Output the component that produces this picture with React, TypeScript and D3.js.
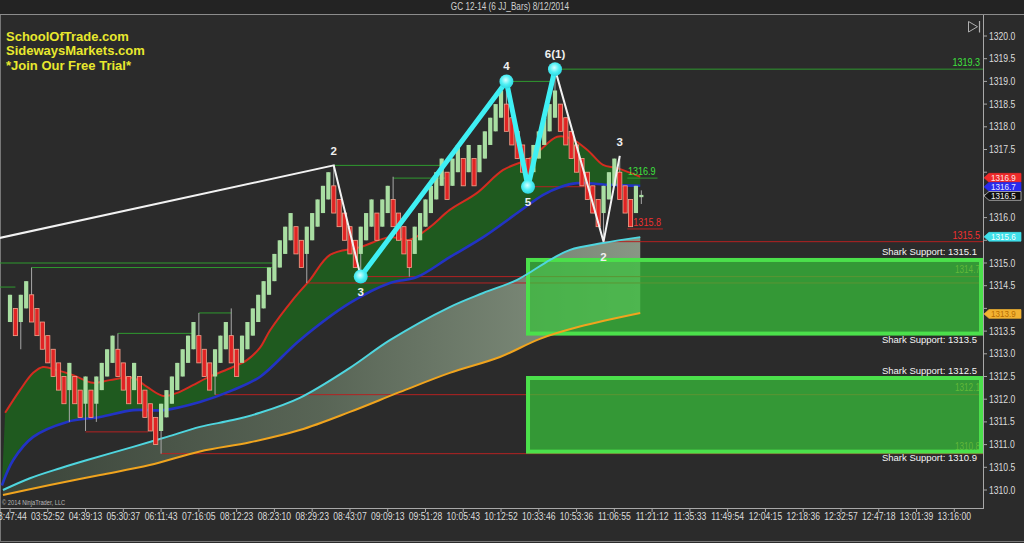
import React from 'react';
import * as d3 from 'd3';

// ---- chart data -------------------------------------------------------
const timeLabels = [
  '03:47:44', '03:52:52', '04:39:13', '05:30:37', '06:11:43', '07:16:05', '08:12:23',
  '08:23:10', '08:29:23', '08:43:07', '09:09:13', '09:51:28', '10:05:43', '10:12:52',
  '10:33:46', '10:53:36', '11:06:55', '11:21:12', '11:35:33', '11:49:54', '12:04:15',
  '12:18:36', '12:32:57', '12:47:18', '13:01:39', '13:16:00',
];
const barsPerLabel = 7;

const priceTicks = [1310, 1310.5, 1311, 1311.5, 1312, 1312.5, 1313, 1313.5, 1314, 1314.5,
  1315, 1315.5, 1316, 1316.5, 1317, 1317.5, 1318, 1318.5, 1319, 1319.5, 1320];

const barOpen = [
  1313.7, 1314.0, 1313.7, 1314.0, 1314.3, 1314.0, 1313.7, 1313.4, 1313.1, 1312.8,
  1312.5, 1312.2, 1312.5, 1312.2, 1311.9, 1312.2, 1311.9, 1312.2, 1312.5, 1312.8,
  1313.1, 1312.8, 1312.5, 1312.2, 1312.5, 1312.2, 1311.9, 1311.6, 1311.3, 1311.6,
  1311.9, 1312.2, 1312.5, 1312.8, 1313.1, 1313.4, 1313.1, 1312.8, 1312.5, 1312.8,
  1313.1, 1313.4, 1313.1, 1312.8, 1313.1, 1313.4, 1313.7, 1314.0, 1314.3, 1314.6,
  1314.9, 1315.2, 1315.5, 1315.8, 1315.5, 1315.2, 1315.5, 1315.8, 1316.1, 1316.4,
  1316.7, 1316.4, 1316.1, 1315.8, 1315.5, 1315.2, 1315.5, 1315.8, 1316.1, 1315.8,
  1316.1, 1316.4, 1316.1, 1315.8, 1315.5, 1315.2, 1315.5, 1315.8, 1316.1, 1316.4,
  1316.7, 1317.0, 1316.7, 1317.0, 1317.3, 1317.0, 1317.3, 1317.0, 1317.3, 1317.6,
  1317.9, 1318.2, 1318.5, 1318.2, 1317.9, 1317.6, 1317.3, 1317.0, 1317.3, 1317.6,
  1317.9, 1318.2, 1318.5, 1318.2, 1317.9, 1317.6, 1317.3, 1317.0, 1316.7, 1316.4,
  1316.1, 1316.4, 1316.7, 1317.0, 1316.7, 1316.4, 1316.1, 1316.45,
];
const barClose = [
  1314.3, 1313.4, 1314.3, 1314.6, 1313.7, 1313.4, 1313.1, 1312.8, 1312.5, 1312.2,
  1311.9, 1312.8, 1311.9, 1311.6, 1312.5, 1311.6, 1312.5, 1312.8, 1313.1, 1313.4,
  1312.5, 1312.2, 1311.9, 1312.8, 1311.9, 1311.6, 1311.3, 1311.0, 1311.9, 1312.2,
  1312.5, 1312.8, 1313.1, 1313.4, 1313.7, 1312.8, 1312.5, 1312.2, 1313.1, 1313.4,
  1313.7, 1312.8, 1312.5, 1313.4, 1313.7, 1314.0, 1314.3, 1314.6, 1314.9, 1315.2,
  1315.5, 1315.8, 1316.1, 1315.2, 1314.9, 1315.8, 1316.1, 1316.4, 1316.7, 1317.0,
  1316.1, 1315.8, 1315.5, 1315.2, 1314.9, 1315.8, 1316.1, 1316.4, 1315.5, 1316.4,
  1316.7, 1315.8, 1315.5, 1315.2, 1314.9, 1315.8, 1316.1, 1316.4, 1316.7, 1317.0,
  1317.3, 1316.4, 1317.3, 1317.6, 1316.7, 1317.6, 1316.7, 1317.6, 1317.9, 1318.2,
  1318.5, 1318.8, 1317.9, 1317.6, 1317.3, 1317.0, 1316.7, 1317.6, 1317.9, 1318.2,
  1318.5, 1318.8, 1317.9, 1317.6, 1317.3, 1317.0, 1316.7, 1316.4, 1316.1, 1315.8,
  1316.7, 1317.0, 1317.3, 1316.4, 1316.1, 1315.8, 1316.7, 1316.5,
];
// wick extremes beyond the body: [bar index, price]
const wickHigh: [number, number][] = [
  [4, 1314.9], [20, 1313.45], [35, 1313.9], [41, 1314.0], [60, 1317.15], [71, 1316.9],
  [92, 1319.0], [101, 1319.27], [113, 1317.36], [117, 1316.6],
];
const wickLow: [number, number][] = [
  [2, 1313.1], [11, 1311.5], [14, 1311.3], [16, 1311.5], [28, 1310.8], [38, 1312.1],
  [55, 1314.56], [65, 1314.7], [74, 1314.7], [96, 1316.68], [110, 1315.47], [117, 1316.3],
];

// moving-average bands: [bar index, price]
const fastAvg: [number, number][] = [
  [-0.9, 1311.7], [1.85, 1312.2], [4.3, 1312.58], [6.1, 1312.71], [8.7, 1312.64],
  [11.7, 1312.53], [15.4, 1312.36], [18.5, 1312.42], [22.8, 1312.47], [25.4, 1312.27],
  [28.4, 1312.07], [31, 1312.14], [33.9, 1312.31], [36.5, 1312.47], [41.3, 1312.71],
  [43.9, 1312.86], [46.3, 1313.13], [48.2, 1313.52], [52.4, 1314.19], [55.6, 1314.63],
  [59.3, 1315.18], [64.9, 1315.35], [70.4, 1315.57], [74.1, 1315.51], [77.8, 1315.79],
  [81.5, 1316.17], [86.5, 1316.54], [91.4, 1317.05], [96.4, 1317.31], [101.4, 1317.78],
  [103.8, 1317.75], [107, 1317.49], [109.9, 1317.16], [112.5, 1317.09], [116.8, 1316.9],
];
const midAvg: [number, number][] = [
  [-1.5, 1310.1], [0.6, 1310.66], [4.3, 1311.17], [10.6, 1311.5], [16.7, 1311.61],
  [22.8, 1311.76], [28.4, 1311.76], [35.2, 1311.94], [41.3, 1312.2], [46.3, 1312.49],
  [53.7, 1313.3], [63, 1314.12], [70.4, 1314.56], [75.4, 1314.69], [81.5, 1315.13],
  [87.7, 1315.57], [94, 1316.1], [98.8, 1316.5], [101.9, 1316.67], [105.1, 1316.76],
  [111.2, 1316.72], [116.8, 1316.7],
];
const slowAvg: [number, number][] = [
  [-1.3, 1310.0], [3.7, 1310.26], [9.3, 1310.48], [14.3, 1310.66], [22.8, 1310.95],
  [29.1, 1311.17], [35.2, 1311.39], [41.3, 1311.54], [46.3, 1311.7], [53.7, 1312.03],
  [63, 1312.69], [70.4, 1313.3], [81.5, 1314.03], [87.7, 1314.34], [94, 1314.63],
  [100.1, 1315.07], [103.8, 1315.29], [109.9, 1315.44], [116.8, 1315.57],
];
const baseAvg: [number, number][] = [
  [-1.3, 1309.89], [7.4, 1310.11], [16.7, 1310.33], [25.9, 1310.55], [35.2, 1310.85],
  [44.5, 1311.05], [53.7, 1311.32], [63, 1311.72], [72.3, 1312.16], [81.5, 1312.58],
  [90.8, 1312.93], [98.2, 1313.33], [105.6, 1313.6], [116.8, 1313.9],
];

// swing levels: start bar, end bar (null = open to the right), price
const highLevels = [
  { from: -2, to: 48.6, v: 1315.0 },
  { from: 4, to: 48.6, v: 1314.9 },
  { from: -2, to: 1, v: 1314.47 },
  { from: 20, to: 33.8, v: 1313.45 },
  { from: 35, to: 41, v: 1313.9 },
  { from: 60, to: 80.3, v: 1317.15 },
  { from: 71, to: 80.6, v: 1316.87 },
  { from: 92, to: 100.3, v: 1319.0 },
  { from: 101, to: null, v: 1319.27, label: '1319.3' },
  { from: 114.4, to: 120, v: 1316.87, label: '1316.9' },
];
const lowLevels = [
  { from: 14, to: 25.6, v: 1311.28 },
  { from: 28, to: null, v: 1310.8, label: '1310.8', dim: true },
  { from: 38, to: null, v: 1312.1, label: '1312.1', dim: true },
  { from: 55, to: null, v: 1314.56 },
  { from: 65, to: null, v: 1314.7, label: '1314.7', dim: true },
  { from: 96, to: 108.5, v: 1316.68 },
  { from: 110, to: null, v: 1315.47, label: '1315.5' },
  { from: 114.4, to: 121, v: 1315.75, label: '1315.8' },
];

// support zones
const zoneStartBar = 96;
const zoneTops = [1315.1, 1312.5];
const zoneBottoms = [1313.5, 1310.9];

// wave counts
const leadSwing: [number, number][] = [[-2, 1315.55], [60, 1317.15], [65, 1314.7]];
const leadLabels = [{ i: 60, v: 1317.15, t: '2', up: true }];
const mainWave: [number, number][] = [[65, 1314.7], [92, 1319.0], [96, 1316.68], [101, 1319.27]];
const mainLabels = ['3', '4', '5', '6(1)'];
const lateSwing: [number, number][] = [[101, 1319.27], [110, 1315.47], [113, 1317.36]];
const lateLabels = [{ i: 110, v: 1315.47, t: '2', up: false }, { i: 113, v: 1317.36, t: '3', up: true }];

// last-value markers on the price scale
const markers = [
  { v: 1316.9, bg: '#ee2a2a', fg: '#ffe6e6', stroke: '#ee2a2a' },
  { v: 1316.7, bg: '#2a2aee', fg: '#e6e6ff', stroke: '#2a2aee' },
  { v: 1316.5, bg: '#101010', fg: '#f0f0f0', stroke: '#d0d0d0' },
  { v: 1315.6, bg: '#3fe0ea', fg: '#f4ffff', stroke: '#3fe0ea' },
  { v: 1313.9, bg: '#f2b232', fg: '#b86e00', stroke: '#f2b232' },
];

const headerLines = ['SchoolOfTrade.com', 'SidewaysMarkets.com', '*Join Our Free Trial*'];
const title = 'GC 12-14 (6 JJ_Bars)  8/12/2014';

// ---- layout -----------------------------------------------------------
const W = 1024;
const H = 543;
const axisX = 983;
const plotTop = 15;
const plotBottom = 508;
const sans = "'Liberation Sans', Arial, sans-serif";

// condensed label: regular sans squeezed horizontally
function Cond(props: {
  x: number; y: number; size: number; fill: string; anchor?: 'start' | 'middle' | 'end';
  sx?: number; children: React.ReactNode;
}) {
  const { x, y, size, fill, anchor = 'start', sx = 0.82, children } = props;
  return (
    <text transform={`translate(${x},${y}) scale(${sx},1)`} textAnchor={anchor}
      fontFamily={sans} fontSize={size} fill={fill}>{children}</text>
  );
}

export default function App() {
  const x = d3.scaleLinear().domain([0, (timeLabels.length - 1) * barsPerLabel]).range([10, 954.3]);
  const y = d3.scaleLinear().domain([1310, 1320]).range([490, 36]);

  const line = d3.line<[number, number]>()
    .x((d) => x(d[0]))
    .y((d) => y(d[1]))
    .curve(d3.curveCatmullRom.alpha(0.5));
  const straight = d3.line<[number, number]>().x((d) => x(d[0])).y((d) => y(d[1]));

  const band = (upper: [number, number][], lower: [number, number][]) =>
    `${line(upper)}L${(line([...lower].reverse()) || '').slice(1)}Z`;

  const highMap = new Map(wickHigh);
  const lowMap = new Map(wickLow);
  const bodyW = 4.2;

  const levelEnd = (to: number | null) => (to === null ? axisX : x(to));
  const markerY = (v: number) => y(v) + 1;
  const hiddenTick = (v: number) => markers.some((m) => Math.abs(markerY(m.v) - y(v)) < 7);
  const tagH = 4.4;

  return (
    <svg width={W} height={H} style={{ position: 'absolute', left: 0, top: 0, display: 'block' }}>
      <defs>
        <linearGradient id="slowBand" gradientUnits="userSpaceOnUse" x1={0} y1={0} x2={645} y2={0}>
          <stop offset="0" stopColor="#3b453a" />
          <stop offset="0.5" stopColor="#5b6858" />
          <stop offset="1" stopColor="#8e9d8a" />
        </linearGradient>
        <radialGradient id="node" cx="0.45" cy="0.4" r="0.6">
          <stop offset="0" stopColor="#d8ffff" />
          <stop offset="0.55" stopColor="#4ff0f4" />
          <stop offset="1" stopColor="#2fd6e0" />
        </radialGradient>
        <clipPath id="plotClip">
          <rect x={0} y={plotTop} width={axisX} height={plotBottom - plotTop} />
        </clipPath>
      </defs>

      {/* backgrounds */}
      <rect x={0} y={0} width={W} height={H} fill="#2b2b2b" />
      <rect x={0} y={0} width={W} height={plotTop} fill="#232323" />
      <line x1={0} x2={W} y1={14.5} y2={14.5} stroke="#8c8c8c" />
      <line x1={0.5} x2={0.5} y1={plotTop} y2={541} stroke="#777" />
      <line x1={0} x2={W} y1={541.5} y2={541.5} stroke="#777" />

      <Cond x={510} y={10} size={10} fill="#d0d0d0" anchor="middle">{title}</Cond>

      <g clipPath="url(#plotClip)">
        {/* average bands */}
        <path d={band(slowAvg, baseAvg)} fill="url(#slowBand)" opacity={0.95} />
        <path d={band(fastAvg, midAvg)} fill="#1f5a1f" />

        {/* swing levels */}
        {highLevels.map((l, k) => (
          <line key={`h${k}`} x1={x(l.from)} x2={levelEnd(l.to)} y1={y(l.v)} y2={y(l.v)} stroke="#2f9a2f" strokeWidth={1} />
        ))}
        {lowLevels.map((l, k) => (
          <line key={`l${k}`} x1={x(l.from)} x2={levelEnd(l.to)} y1={y(l.v)} y2={y(l.v)} stroke="#b42222" strokeWidth={1} />
        ))}
        {lowLevels.filter((l) => l.dim).map((l, k) => (
          <Cond key={`dl${k}`} x={980} y={y(l.v) - 4} size={10} anchor="end" fill="#c99a35">{l.label}</Cond>
        ))}

        {/* support zones */}
        {zoneTops.map((t, k) => (
          <rect key={`z${k}`} x={x(zoneStartBar)} y={y(t) + 1.5} width={981 - x(zoneStartBar)}
            height={y(zoneBottoms[k]) - y(t) + 1} fill="#38c23a" fillOpacity={0.72} stroke="#4be04b" strokeWidth={4} />
        ))}

        {/* average lines */}
        <path d={line(baseAvg) || ''} fill="none" stroke="#f0a41e" strokeWidth={2} />
        <path d={line(slowAvg) || ''} fill="none" stroke="#4fd6df" strokeWidth={2} />
        <path d={line(midAvg) || ''} fill="none" stroke="#2233c4" strokeWidth={2.6} />
        <path d={line(fastAvg) || ''} fill="none" stroke="#d42c20" strokeWidth={2} />

        {/* bars */}
        {barOpen.map((o, i) => {
          const c = barClose[i];
          const up = c >= o;
          const hi = highMap.get(i) ?? Math.max(o, c);
          const lo = lowMap.get(i) ?? Math.min(o, c);
          const cx = x(i);
          const top = y(Math.max(o, c));
          const bot = y(Math.min(o, c));
          return (
            <g key={`b${i}`}>
              <line x1={cx} x2={cx} y1={y(hi)} y2={y(lo)} stroke="#a8a8a8" strokeWidth={1} />
              <rect x={cx - bodyW / 2} y={top} width={bodyW} height={Math.max(bot - top, 1.5)}
                fill={up ? '#a9dea2' : '#e02424'} stroke={up ? 'none' : '#f3a38c'} strokeWidth={0.8} />
            </g>
          );
        })}

        {/* level labels */}
        {highLevels.filter((l) => l.label).map((l, k) => (
          <Cond key={`hl${k}`} x={l.to === null ? 980 : x(l.to) - 2} y={y(l.v) - 3} size={11} anchor="end" fill="#3ee23e">{l.label}</Cond>
        ))}
        {lowLevels.filter((l) => l.label && !l.dim).map((l, k) => (
          <Cond key={`rl${k}`} x={l.to === null ? 980 : x(l.to) - 2} y={y(l.v) - 3} size={11} anchor="end" fill="#f03030">{l.label}</Cond>
        ))}

        {/* wave counts */}
        <path d={straight(leadSwing) || ''} fill="none" stroke="#f2f2f2" strokeWidth={2} />
        <path d={straight(lateSwing) || ''} fill="none" stroke="#f2f2f2" strokeWidth={2} />
        <path d={straight(mainWave) || ''} fill="none" stroke="#3ff0f4" strokeWidth={5} strokeLinejoin="round" />
        {mainWave.map((p, k) => (
          <circle key={`n${k}`} cx={x(p[0])} cy={y(p[1])} r={7} fill="url(#node)" />
        ))}
        {mainWave.map((p, k) => (
          <text key={`nl${k}`} x={x(p[0])} y={k % 2 === 1 ? y(p[1]) - 11 : y(p[1]) + 19}
            textAnchor="middle" fontFamily={sans} fontWeight="bold" fontSize={11.5} fill="#f0f0f0">{mainLabels[k]}</text>
        ))}
        {[...leadLabels, ...lateLabels].map((l, k) => (
          <text key={`wl${k}`} x={x(l.i)} y={l.up ? y(l.v) - 10 : y(l.v) + 19} textAnchor="middle"
            fontFamily={sans} fontWeight="bold" fontSize={11.5} fill="#f0f0f0">{l.t}</text>
        ))}

        {/* zone captions */}
        {zoneTops.map((t, k) => (
          <g key={`zc${k}`}>
            <text x={977} y={y(t) - 3} textAnchor="end" fontFamily={sans} fontSize={9.5} fill="#f4f4f4">
              {`Shark Support: ${t.toFixed(1)}`}
            </text>
            <text x={977} y={y(zoneBottoms[k]) + 11.5} textAnchor="end" fontFamily={sans} fontSize={9.5} fill="#f4f4f4">
              {`Shark Support: ${zoneBottoms[k].toFixed(1)}`}
            </text>
          </g>
        ))}
      </g>

      {/* header text */}
      {headerLines.map((t, k) => (
        <text key={`hd${k}`} x={6} y={41 + k * 14.3} fontFamily={sans} fontWeight="bold" fontSize={13} fill="#e8e82e">{t}</text>
      ))}

      {/* scroll-to-end glyph */}
      <path d="M968.5,21.5 L968.5,32 L977.5,26.7 Z" fill="none" stroke="#b0b0b0" strokeWidth={1} />
      <line x1={979.5} x2={979.5} y1={21} y2={32.5} stroke="#b0b0b0" strokeWidth={1.2} />

      {/* price axis */}
      <line x1={axisX + 0.5} x2={axisX + 0.5} y1={plotTop} y2={plotBottom} stroke="#a8a8a8" />
      {priceTicks.map((v) => (
        <g key={`pt${v}`}>
          <line x1={axisX} x2={axisX + 4} y1={y(v)} y2={y(v)} stroke="#a8a8a8" />
          {!hiddenTick(v) && (
            <Cond x={axisX + 6} y={y(v) + 3.5} size={10.5} fill="#dcdcdc">{v.toFixed(1)}</Cond>
          )}
        </g>
      ))}
      {markers.map((m) => {
        const my = markerY(m.v);
        return (
          <g key={`m${m.v}`}>
            <path d={`M${axisX + 1},${my} L${axisX + 6},${my - tagH} L1021,${my - tagH} L1021,${my + tagH} L${axisX + 6},${my + tagH} Z`}
              fill={m.bg} stroke={m.stroke} strokeWidth={0.7} />
            <Cond x={axisX + 8} y={my + 3.2} size={9} sx={0.9} fill={m.fg}>{m.v.toFixed(1)}</Cond>
          </g>
        );
      })}

      {/* time axis */}
      <line x1={0} x2={axisX + 1} y1={plotBottom + 0.5} y2={plotBottom + 0.5} stroke="#a8a8a8" />
      {timeLabels.map((t, k) => {
        const tx = x(k * barsPerLabel);
        return (
          <g key={`tl${k}`}>
            <line x1={tx} x2={tx} y1={plotBottom} y2={plotBottom + 4} stroke="#a8a8a8" />
            <Cond x={tx} y={519.5} size={10.5} anchor="middle" fill="#dcdcdc">{t}</Cond>
          </g>
        );
      })}
      <Cond x={2} y={505} size={7} fill="#b8b8b8">© 2014 NinjaTrader, LLC</Cond>
    </svg>
  );
}
